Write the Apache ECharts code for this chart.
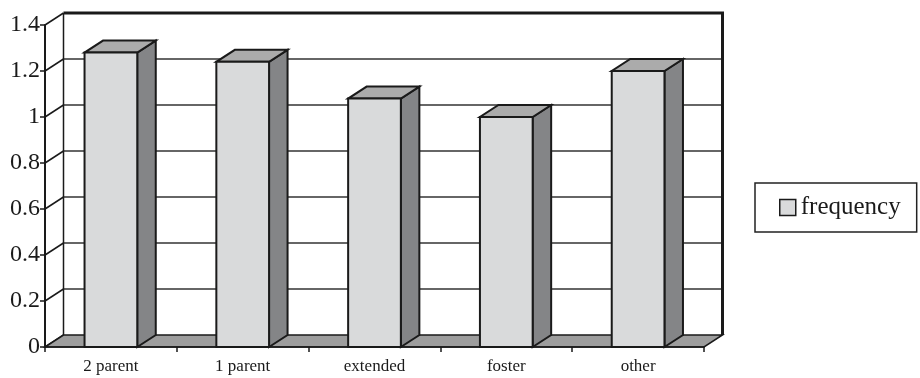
<!DOCTYPE html>
<html>
<head>
<meta charset="utf-8">
<script src="https://cdn.jsdelivr.net/npm/echarts@6/dist/echarts.min.js"></script>
<style>
  html, body { margin: 0; padding: 0; background: #fff; }
  #chart { width: 920px; height: 378px; }
</style>
</head>
<body>
<div id="chart"></div>
<script>
// Household type vs. frequency
const categories = ['2 parent', '1 parent', 'extended', 'foster', 'other'];
const frequency = [1.28, 1.24, 1.08, 1.0, 1.2];
const yTickValues = [0, 0.2, 0.4, 0.6, 0.8, 1, 1.2, 1.4];
const seriesName = 'frequency';

// Oblique projection used for the pseudo-3D walls and bars
const DEPTH_X = 18.5;
const DEPTH_Y = -12;
const FONT = '"Liberation Serif", "Times New Roman", serif';
const INK = '#1a1a1a';
const FRONT = '#d9dadb';
const TOP = '#ababab';
const SIDE = '#848587';
const FLOOR = '#9d9d9d';

const yMin = yTickValues[0];
const yMax = yTickValues[yTickValues.length - 1];

// Back wall, left wall, floor and gridlines of the plot "room"
function renderRoom(params, api) {
  const cs = params.coordSys;
  const x0 = cs.x;
  const x1 = cs.x + cs.width;
  const yBase = api.coord([0, yMin])[1];
  const yTop = api.coord([0, yMax])[1];
  const bx0 = x0 + DEPTH_X, bx1 = x1 + DEPTH_X;
  const children = [];

  children.push({
    type: 'rect',
    shape: { x: bx0, y: yTop + DEPTH_Y, width: bx1 - bx0, height: yBase - yTop },
    style: { fill: '#fff' }
  });
  children.push({
    type: 'polygon',
    shape: { points: [[x0, yTop], [bx0, yTop + DEPTH_Y], [bx0, yBase + DEPTH_Y], [x0, yBase]] },
    style: { fill: '#fff' }
  });

  yTickValues.forEach(function (v) {
    const y = api.coord([0, v])[1];
    if (v !== yMin && v !== yMax) {
      children.push({
        type: 'line',
        shape: { x1: bx0, y1: y + DEPTH_Y, x2: bx1, y2: y + DEPTH_Y },
        style: { stroke: '#333', lineWidth: 1.5 }
      });
    }
    children.push({
      type: 'line',
      shape: { x1: x0, y1: y, x2: bx0, y2: y + DEPTH_Y },
      style: { stroke: INK, lineWidth: 1.5 }
    });
  });

  // floor slab
  children.push({
    type: 'polygon',
    shape: { points: [[x0, yBase], [x1, yBase], [bx1, yBase + DEPTH_Y], [bx0, yBase + DEPTH_Y]] },
    style: { fill: FLOOR, stroke: INK, lineWidth: 1.5, lineJoin: 'miter' }
  });
  // wall edges
  children.push({
    type: 'line',
    shape: { x1: bx0, y1: yTop + DEPTH_Y, x2: bx0, y2: yBase + DEPTH_Y },
    style: { stroke: INK, lineWidth: 1.5 }
  });
  children.push({
    type: 'polyline',
    shape: { points: [[bx0, yTop + DEPTH_Y], [bx1, yTop + DEPTH_Y], [bx1, yBase + DEPTH_Y]] },
    style: { stroke: INK, lineWidth: 3, fill: null, lineJoin: 'miter' }
  });

  return { type: 'group', children: children };
}

// One pseudo-3D column per category
function renderBar(params, api) {
  const idx = api.value(0);
  const val = api.value(1);
  const top = api.coord([idx, val]);
  const base = api.coord([idx, yMin]);
  const w = api.size([1, 0])[0] * 0.4;
  const xl = top[0] - w / 2, xr = top[0] + w / 2;
  const yt = top[1], yb = base[1];
  const edge = { stroke: INK, lineWidth: 2, lineJoin: 'miter' };
  return {
    type: 'group',
    children: [
      {
        type: 'polygon',
        shape: { points: [[xr, yt], [xr + DEPTH_X, yt + DEPTH_Y], [xr + DEPTH_X, yb + DEPTH_Y], [xr, yb]] },
        style: Object.assign({ fill: SIDE }, edge)
      },
      {
        type: 'polygon',
        shape: { points: [[xl, yt], [xr, yt], [xr + DEPTH_X, yt + DEPTH_Y], [xl + DEPTH_X, yt + DEPTH_Y]] },
        style: Object.assign({ fill: TOP }, edge)
      },
      {
        type: 'rect',
        shape: { x: xl, y: yt, width: w, height: yb - yt },
        style: Object.assign({ fill: FRONT }, edge)
      }
    ]
  };
}

const chart = echarts.init(document.getElementById('chart'), null, { renderer: 'canvas' });

chart.setOption({
  animation: false,
  backgroundColor: '#fff',
  textStyle: { fontFamily: FONT },
  grid: { left: 45, right: 216, top: 25, bottom: 31, containLabel: false },
  xAxis: {
    type: 'category',
    data: categories,
    boundaryGap: true,
    z: 10,
    axisLine: { show: true, lineStyle: { color: INK, width: 1.5 } },
    axisTick: { show: true, length: 5, lineStyle: { color: INK, width: 1.5 } },
    axisLabel: { fontFamily: FONT, fontSize: 17, color: '#1a1a1a', margin: 11 },
    splitLine: { show: false }
  },
  yAxis: {
    type: 'value',
    min: yMin,
    max: yMax,
    interval: 0.2,
    z: 10,
    axisLine: { show: true, lineStyle: { color: INK, width: 2 } },
    axisTick: { show: true, length: 5, lineStyle: { color: INK, width: 1.5 } },
    axisLabel: { fontFamily: FONT, fontSize: 24, color: '#1a1a1a', margin: 5 },
    splitLine: { show: false }
  },
  legend: {
    data: [{
      name: seriesName,
      icon: 'rect',
      itemStyle: { color: FRONT, borderColor: INK, borderWidth: 1.5 }
    }],
    left: 755,
    top: 183,
    itemWidth: 16,
    itemHeight: 16,
    padding: [12, 16, 12, 24],
    borderColor: '#222',
    borderWidth: 1.5,
    textStyle: { fontFamily: FONT, fontSize: 25, color: '#1a1a1a' },
    selectedMode: false
  },
  series: [
    {
      type: 'custom',
      name: 'room',
      z: 1,
      silent: true,
      renderItem: renderRoom,
      data: [[0, yMin]]
    },
    {
      type: 'custom',
      name: seriesName,
      z: 3,
      renderItem: renderBar,
      itemStyle: { color: FRONT },
      data: frequency.map(function (v, i) { return [i, v]; })
    }
  ]
});
</script>
</body>
</html>
